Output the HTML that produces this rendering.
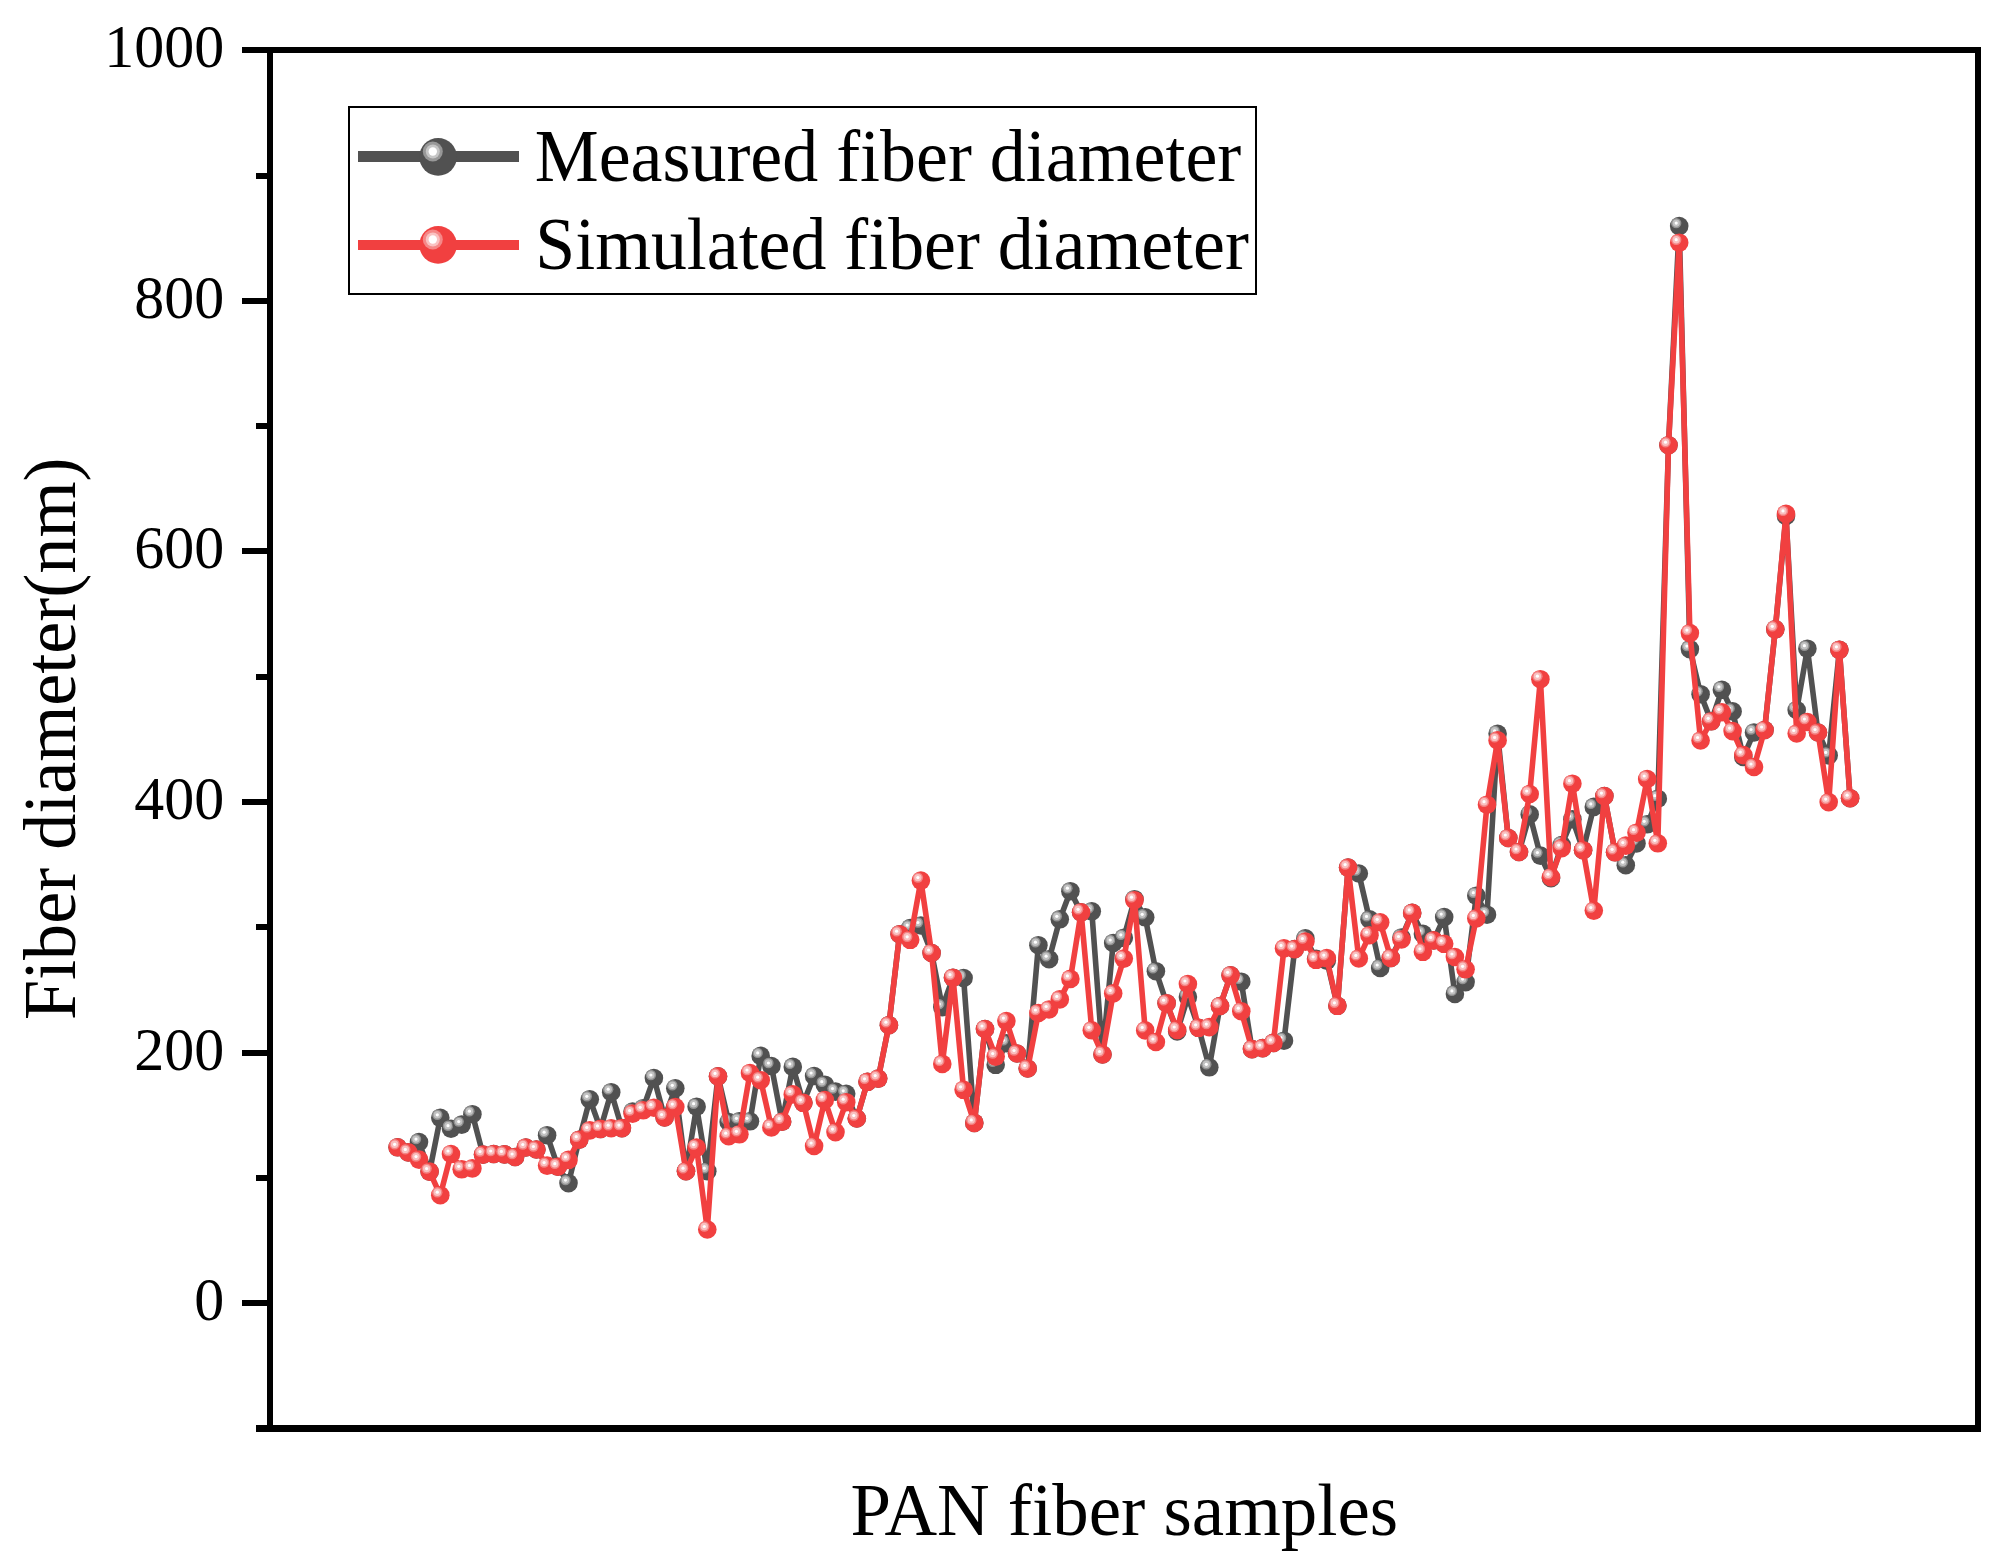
<!DOCTYPE html>
<html lang="en"><head><meta charset="utf-8"><title>Fiber diameter: measured vs simulated</title>
<style>html,body{margin:0;padding:0;background:#fff}body{width:2007px;height:1568px;overflow:hidden}svg{display:block}</style>
</head><body>
<svg width="2007" height="1568" viewBox="0 0 2007 1568"><defs>
<g id="mg"><circle r="9.3" fill="#515151"/><circle cx="-3" cy="-3" r="5.2" fill="#929292"/><circle cx="-3" cy="-3" r="3.7" fill="#c2c2c2"/><circle cx="-3" cy="-3" r="1.6" fill="#fff"/></g>
<g id="mr"><circle r="9.3" fill="#F14040"/><circle cx="-3" cy="-3" r="5.2" fill="#f48282"/><circle cx="-3" cy="-3" r="3.7" fill="#f9c0c0"/><circle cx="-3" cy="-3" r="1.6" fill="#fff"/></g>
<g id="lg"><circle r="18.8" fill="#515151"/><circle cx="-5.3" cy="-5.4" r="10" fill="#989898"/><circle cx="-5.3" cy="-5.4" r="7" fill="#c6c6c6"/><circle cx="-5.3" cy="-5.4" r="4.2" fill="#fff"/></g>
<g id="lr"><circle r="18.8" fill="#F14040"/><circle cx="-5.3" cy="-5.4" r="10" fill="#f58888"/><circle cx="-5.3" cy="-5.4" r="7" fill="#fac2c2"/><circle cx="-5.3" cy="-5.4" r="4.2" fill="#fff"/></g>
</defs><rect width="2007" height="1568" fill="#fff"/><polyline points="397.6,1147.3 408.3,1152.4 419.0,1142.1 429.6,1171.6 440.3,1117.8 451.0,1128.7 461.7,1124.6 472.4,1114.2 483.0,1154.6 493.7,1154.0 504.4,1154.4 515.1,1157.0 525.8,1147.5 536.4,1149.5 547.1,1135.2 557.8,1166.7 568.5,1183.1 579.2,1139.7 589.8,1099.3 600.5,1128.9 611.2,1092.2 621.9,1128.1 632.6,1111.6 643.2,1108.3 653.9,1078.0 664.6,1117.5 675.3,1088.3 686.0,1171.2 696.6,1106.7 707.3,1171.2 718.0,1076.4 728.7,1122.0 739.4,1121.3 750.0,1121.3 760.7,1055.9 771.4,1066.0 782.1,1121.7 792.8,1066.9 803.4,1102.8 814.1,1076.0 824.8,1084.7 835.5,1091.6 846.2,1093.8 856.8,1118.5 867.5,1081.8 878.2,1078.6 888.9,1025.2 899.6,934.2 910.2,928.1 920.9,925.5 931.6,953.0 942.3,1007.1 953.0,977.7 963.6,978.0 974.3,1122.9 985.0,1029.0 995.7,1064.8 1006.4,1043.3 1017.0,1053.5 1027.7,1068.5 1038.4,945.2 1049.1,959.2 1059.8,919.3 1070.4,891.2 1081.1,912.3 1091.8,911.3 1102.5,1054.5 1113.2,943.0 1123.8,937.8 1134.5,899.2 1145.2,917.3 1155.9,971.2 1166.6,1003.2 1177.2,1031.5 1187.9,996.9 1198.6,1027.8 1209.3,1067.3 1220.0,1006.0 1230.6,975.3 1241.3,981.7 1252.0,1049.1 1262.7,1048.1 1273.4,1042.9 1284.0,1040.7 1294.7,949.1 1305.4,938.4 1316.1,958.8 1326.8,960.6 1337.4,1005.8 1348.1,867.6 1358.8,873.5 1369.5,919.4 1380.2,968.0 1390.8,958.0 1401.5,937.5 1412.2,912.9 1422.9,933.9 1433.6,940.4 1444.2,917.1 1454.9,993.9 1465.6,982.1 1476.3,895.7 1487.0,914.7 1497.6,733.8 1508.3,838.0 1519.0,852.0 1529.7,814.4 1540.4,855.6 1551.0,878.2 1561.7,845.0 1572.4,819.2 1583.1,850.2 1593.8,806.9 1604.4,796.1 1615.1,852.3 1625.8,865.2 1636.5,843.4 1647.2,824.3 1657.8,798.7 1668.5,445.2 1679.2,226.1 1689.9,649.1 1700.6,694.2 1711.2,721.3 1721.9,689.8 1732.6,711.4 1743.3,757.0 1754.0,732.5 1764.6,730.0 1775.3,629.3 1786.0,516.0 1796.7,710.0 1807.4,648.7 1818.0,732.5 1828.7,755.4 1839.4,649.8 1850.1,798.2" fill="none" stroke="#515151" stroke-width="5.6" stroke-linejoin="round"/><use href="#mg" x="397.6" y="1147.3"/><use href="#mg" x="408.3" y="1152.4"/><use href="#mg" x="419.0" y="1142.1"/><use href="#mg" x="429.6" y="1171.6"/><use href="#mg" x="440.3" y="1117.8"/><use href="#mg" x="451.0" y="1128.7"/><use href="#mg" x="461.7" y="1124.6"/><use href="#mg" x="472.4" y="1114.2"/><use href="#mg" x="483.0" y="1154.6"/><use href="#mg" x="493.7" y="1154.0"/><use href="#mg" x="504.4" y="1154.4"/><use href="#mg" x="515.1" y="1157.0"/><use href="#mg" x="525.8" y="1147.5"/><use href="#mg" x="536.4" y="1149.5"/><use href="#mg" x="547.1" y="1135.2"/><use href="#mg" x="557.8" y="1166.7"/><use href="#mg" x="568.5" y="1183.1"/><use href="#mg" x="579.2" y="1139.7"/><use href="#mg" x="589.8" y="1099.3"/><use href="#mg" x="600.5" y="1128.9"/><use href="#mg" x="611.2" y="1092.2"/><use href="#mg" x="621.9" y="1128.1"/><use href="#mg" x="632.6" y="1111.6"/><use href="#mg" x="643.2" y="1108.3"/><use href="#mg" x="653.9" y="1078.0"/><use href="#mg" x="664.6" y="1117.5"/><use href="#mg" x="675.3" y="1088.3"/><use href="#mg" x="686.0" y="1171.2"/><use href="#mg" x="696.6" y="1106.7"/><use href="#mg" x="707.3" y="1171.2"/><use href="#mg" x="718.0" y="1076.4"/><use href="#mg" x="728.7" y="1122.0"/><use href="#mg" x="739.4" y="1121.3"/><use href="#mg" x="750.0" y="1121.3"/><use href="#mg" x="760.7" y="1055.9"/><use href="#mg" x="771.4" y="1066.0"/><use href="#mg" x="782.1" y="1121.7"/><use href="#mg" x="792.8" y="1066.9"/><use href="#mg" x="803.4" y="1102.8"/><use href="#mg" x="814.1" y="1076.0"/><use href="#mg" x="824.8" y="1084.7"/><use href="#mg" x="835.5" y="1091.6"/><use href="#mg" x="846.2" y="1093.8"/><use href="#mg" x="856.8" y="1118.5"/><use href="#mg" x="867.5" y="1081.8"/><use href="#mg" x="878.2" y="1078.6"/><use href="#mg" x="888.9" y="1025.2"/><use href="#mg" x="899.6" y="934.2"/><use href="#mg" x="910.2" y="928.1"/><use href="#mg" x="920.9" y="925.5"/><use href="#mg" x="931.6" y="953.0"/><use href="#mg" x="942.3" y="1007.1"/><use href="#mg" x="953.0" y="977.7"/><use href="#mg" x="963.6" y="978.0"/><use href="#mg" x="974.3" y="1122.9"/><use href="#mg" x="985.0" y="1029.0"/><use href="#mg" x="995.7" y="1064.8"/><use href="#mg" x="1006.4" y="1043.3"/><use href="#mg" x="1017.0" y="1053.5"/><use href="#mg" x="1027.7" y="1068.5"/><use href="#mg" x="1038.4" y="945.2"/><use href="#mg" x="1049.1" y="959.2"/><use href="#mg" x="1059.8" y="919.3"/><use href="#mg" x="1070.4" y="891.2"/><use href="#mg" x="1081.1" y="912.3"/><use href="#mg" x="1091.8" y="911.3"/><use href="#mg" x="1102.5" y="1054.5"/><use href="#mg" x="1113.2" y="943.0"/><use href="#mg" x="1123.8" y="937.8"/><use href="#mg" x="1134.5" y="899.2"/><use href="#mg" x="1145.2" y="917.3"/><use href="#mg" x="1155.9" y="971.2"/><use href="#mg" x="1166.6" y="1003.2"/><use href="#mg" x="1177.2" y="1031.5"/><use href="#mg" x="1187.9" y="996.9"/><use href="#mg" x="1198.6" y="1027.8"/><use href="#mg" x="1209.3" y="1067.3"/><use href="#mg" x="1220.0" y="1006.0"/><use href="#mg" x="1230.6" y="975.3"/><use href="#mg" x="1241.3" y="981.7"/><use href="#mg" x="1252.0" y="1049.1"/><use href="#mg" x="1262.7" y="1048.1"/><use href="#mg" x="1273.4" y="1042.9"/><use href="#mg" x="1284.0" y="1040.7"/><use href="#mg" x="1294.7" y="949.1"/><use href="#mg" x="1305.4" y="938.4"/><use href="#mg" x="1316.1" y="958.8"/><use href="#mg" x="1326.8" y="960.6"/><use href="#mg" x="1337.4" y="1005.8"/><use href="#mg" x="1348.1" y="867.6"/><use href="#mg" x="1358.8" y="873.5"/><use href="#mg" x="1369.5" y="919.4"/><use href="#mg" x="1380.2" y="968.0"/><use href="#mg" x="1390.8" y="958.0"/><use href="#mg" x="1401.5" y="937.5"/><use href="#mg" x="1412.2" y="912.9"/><use href="#mg" x="1422.9" y="933.9"/><use href="#mg" x="1433.6" y="940.4"/><use href="#mg" x="1444.2" y="917.1"/><use href="#mg" x="1454.9" y="993.9"/><use href="#mg" x="1465.6" y="982.1"/><use href="#mg" x="1476.3" y="895.7"/><use href="#mg" x="1487.0" y="914.7"/><use href="#mg" x="1497.6" y="733.8"/><use href="#mg" x="1508.3" y="838.0"/><use href="#mg" x="1519.0" y="852.0"/><use href="#mg" x="1529.7" y="814.4"/><use href="#mg" x="1540.4" y="855.6"/><use href="#mg" x="1551.0" y="878.2"/><use href="#mg" x="1561.7" y="845.0"/><use href="#mg" x="1572.4" y="819.2"/><use href="#mg" x="1583.1" y="850.2"/><use href="#mg" x="1593.8" y="806.9"/><use href="#mg" x="1604.4" y="796.1"/><use href="#mg" x="1615.1" y="852.3"/><use href="#mg" x="1625.8" y="865.2"/><use href="#mg" x="1636.5" y="843.4"/><use href="#mg" x="1647.2" y="824.3"/><use href="#mg" x="1657.8" y="798.7"/><use href="#mg" x="1668.5" y="445.2"/><use href="#mg" x="1679.2" y="226.1"/><use href="#mg" x="1689.9" y="649.1"/><use href="#mg" x="1700.6" y="694.2"/><use href="#mg" x="1711.2" y="721.3"/><use href="#mg" x="1721.9" y="689.8"/><use href="#mg" x="1732.6" y="711.4"/><use href="#mg" x="1743.3" y="757.0"/><use href="#mg" x="1754.0" y="732.5"/><use href="#mg" x="1764.6" y="730.0"/><use href="#mg" x="1775.3" y="629.3"/><use href="#mg" x="1786.0" y="516.0"/><use href="#mg" x="1796.7" y="710.0"/><use href="#mg" x="1807.4" y="648.7"/><use href="#mg" x="1818.0" y="732.5"/><use href="#mg" x="1828.7" y="755.4"/><use href="#mg" x="1839.4" y="649.8"/><use href="#mg" x="1850.1" y="798.2"/><polyline points="397.6,1147.3 408.3,1152.4 419.0,1159.6 429.6,1171.6 440.3,1195.2 451.0,1154.0 461.7,1169.3 472.4,1168.4 483.0,1154.6 493.7,1154.0 504.4,1154.4 515.1,1157.0 525.8,1147.5 536.4,1149.5 547.1,1165.6 557.8,1166.7 568.5,1159.9 579.2,1139.7 589.8,1130.4 600.5,1128.9 611.2,1128.2 621.9,1128.1 632.6,1113.6 643.2,1110.3 653.9,1107.7 664.6,1117.5 675.3,1107.1 686.0,1171.2 696.6,1147.6 707.3,1229.5 718.0,1076.4 728.7,1136.2 739.4,1134.3 750.0,1073.0 760.7,1080.2 771.4,1127.4 782.1,1121.7 792.8,1094.4 803.4,1102.8 814.1,1146.0 824.8,1100.0 835.5,1132.1 846.2,1102.2 856.8,1118.5 867.5,1081.8 878.2,1078.6 888.9,1025.2 899.6,934.2 910.2,939.8 920.9,880.6 931.6,953.0 942.3,1063.9 953.0,977.7 963.6,1089.8 974.3,1122.9 985.0,1029.0 995.7,1056.6 1006.4,1021.1 1017.0,1053.5 1027.7,1068.5 1038.4,1013.0 1049.1,1009.5 1059.8,999.4 1070.4,978.9 1081.1,912.3 1091.8,1030.3 1102.5,1054.5 1113.2,993.4 1123.8,958.6 1134.5,900.2 1145.2,1030.4 1155.9,1042.0 1166.6,1003.2 1177.2,1030.0 1187.9,984.0 1198.6,1027.8 1209.3,1027.1 1220.0,1006.0 1230.6,975.3 1241.3,1011.2 1252.0,1049.1 1262.7,1048.1 1273.4,1042.9 1284.0,948.4 1294.7,949.1 1305.4,941.6 1316.1,959.8 1326.8,958.1 1337.4,1005.8 1348.1,867.6 1358.8,958.4 1369.5,935.2 1380.2,922.3 1390.8,958.0 1401.5,939.5 1412.2,912.9 1422.9,951.8 1433.6,940.4 1444.2,943.8 1454.9,957.0 1465.6,969.3 1476.3,918.4 1487.0,804.7 1497.6,740.4 1508.3,838.0 1519.0,852.0 1529.7,794.0 1540.4,679.2 1551.0,877.2 1561.7,848.1 1572.4,783.7 1583.1,850.2 1593.8,910.6 1604.4,796.1 1615.1,852.3 1625.8,845.6 1636.5,832.7 1647.2,779.0 1657.8,843.3 1668.5,445.2 1679.2,242.7 1689.9,633.1 1700.6,740.5 1711.2,721.3 1721.9,712.3 1732.6,731.1 1743.3,755.1 1754.0,767.0 1764.6,730.0 1775.3,629.3 1786.0,513.9 1796.7,733.5 1807.4,722.0 1818.0,732.5 1828.7,802.1 1839.4,649.8 1850.1,798.2" fill="none" stroke="#F14040" stroke-width="5.6" stroke-linejoin="round"/><use href="#mr" x="397.6" y="1147.3"/><use href="#mr" x="408.3" y="1152.4"/><use href="#mr" x="419.0" y="1159.6"/><use href="#mr" x="429.6" y="1171.6"/><use href="#mr" x="440.3" y="1195.2"/><use href="#mr" x="451.0" y="1154.0"/><use href="#mr" x="461.7" y="1169.3"/><use href="#mr" x="472.4" y="1168.4"/><use href="#mr" x="483.0" y="1154.6"/><use href="#mr" x="493.7" y="1154.0"/><use href="#mr" x="504.4" y="1154.4"/><use href="#mr" x="515.1" y="1157.0"/><use href="#mr" x="525.8" y="1147.5"/><use href="#mr" x="536.4" y="1149.5"/><use href="#mr" x="547.1" y="1165.6"/><use href="#mr" x="557.8" y="1166.7"/><use href="#mr" x="568.5" y="1159.9"/><use href="#mr" x="579.2" y="1139.7"/><use href="#mr" x="589.8" y="1130.4"/><use href="#mr" x="600.5" y="1128.9"/><use href="#mr" x="611.2" y="1128.2"/><use href="#mr" x="621.9" y="1128.1"/><use href="#mr" x="632.6" y="1113.6"/><use href="#mr" x="643.2" y="1110.3"/><use href="#mr" x="653.9" y="1107.7"/><use href="#mr" x="664.6" y="1117.5"/><use href="#mr" x="675.3" y="1107.1"/><use href="#mr" x="686.0" y="1171.2"/><use href="#mr" x="696.6" y="1147.6"/><use href="#mr" x="707.3" y="1229.5"/><use href="#mr" x="718.0" y="1076.4"/><use href="#mr" x="728.7" y="1136.2"/><use href="#mr" x="739.4" y="1134.3"/><use href="#mr" x="750.0" y="1073.0"/><use href="#mr" x="760.7" y="1080.2"/><use href="#mr" x="771.4" y="1127.4"/><use href="#mr" x="782.1" y="1121.7"/><use href="#mr" x="792.8" y="1094.4"/><use href="#mr" x="803.4" y="1102.8"/><use href="#mr" x="814.1" y="1146.0"/><use href="#mr" x="824.8" y="1100.0"/><use href="#mr" x="835.5" y="1132.1"/><use href="#mr" x="846.2" y="1102.2"/><use href="#mr" x="856.8" y="1118.5"/><use href="#mr" x="867.5" y="1081.8"/><use href="#mr" x="878.2" y="1078.6"/><use href="#mr" x="888.9" y="1025.2"/><use href="#mr" x="899.6" y="934.2"/><use href="#mr" x="910.2" y="939.8"/><use href="#mr" x="920.9" y="880.6"/><use href="#mr" x="931.6" y="953.0"/><use href="#mr" x="942.3" y="1063.9"/><use href="#mr" x="953.0" y="977.7"/><use href="#mr" x="963.6" y="1089.8"/><use href="#mr" x="974.3" y="1122.9"/><use href="#mr" x="985.0" y="1029.0"/><use href="#mr" x="995.7" y="1056.6"/><use href="#mr" x="1006.4" y="1021.1"/><use href="#mr" x="1017.0" y="1053.5"/><use href="#mr" x="1027.7" y="1068.5"/><use href="#mr" x="1038.4" y="1013.0"/><use href="#mr" x="1049.1" y="1009.5"/><use href="#mr" x="1059.8" y="999.4"/><use href="#mr" x="1070.4" y="978.9"/><use href="#mr" x="1081.1" y="912.3"/><use href="#mr" x="1091.8" y="1030.3"/><use href="#mr" x="1102.5" y="1054.5"/><use href="#mr" x="1113.2" y="993.4"/><use href="#mr" x="1123.8" y="958.6"/><use href="#mr" x="1134.5" y="900.2"/><use href="#mr" x="1145.2" y="1030.4"/><use href="#mr" x="1155.9" y="1042.0"/><use href="#mr" x="1166.6" y="1003.2"/><use href="#mr" x="1177.2" y="1030.0"/><use href="#mr" x="1187.9" y="984.0"/><use href="#mr" x="1198.6" y="1027.8"/><use href="#mr" x="1209.3" y="1027.1"/><use href="#mr" x="1220.0" y="1006.0"/><use href="#mr" x="1230.6" y="975.3"/><use href="#mr" x="1241.3" y="1011.2"/><use href="#mr" x="1252.0" y="1049.1"/><use href="#mr" x="1262.7" y="1048.1"/><use href="#mr" x="1273.4" y="1042.9"/><use href="#mr" x="1284.0" y="948.4"/><use href="#mr" x="1294.7" y="949.1"/><use href="#mr" x="1305.4" y="941.6"/><use href="#mr" x="1316.1" y="959.8"/><use href="#mr" x="1326.8" y="958.1"/><use href="#mr" x="1337.4" y="1005.8"/><use href="#mr" x="1348.1" y="867.6"/><use href="#mr" x="1358.8" y="958.4"/><use href="#mr" x="1369.5" y="935.2"/><use href="#mr" x="1380.2" y="922.3"/><use href="#mr" x="1390.8" y="958.0"/><use href="#mr" x="1401.5" y="939.5"/><use href="#mr" x="1412.2" y="912.9"/><use href="#mr" x="1422.9" y="951.8"/><use href="#mr" x="1433.6" y="940.4"/><use href="#mr" x="1444.2" y="943.8"/><use href="#mr" x="1454.9" y="957.0"/><use href="#mr" x="1465.6" y="969.3"/><use href="#mr" x="1476.3" y="918.4"/><use href="#mr" x="1487.0" y="804.7"/><use href="#mr" x="1497.6" y="740.4"/><use href="#mr" x="1508.3" y="838.0"/><use href="#mr" x="1519.0" y="852.0"/><use href="#mr" x="1529.7" y="794.0"/><use href="#mr" x="1540.4" y="679.2"/><use href="#mr" x="1551.0" y="877.2"/><use href="#mr" x="1561.7" y="848.1"/><use href="#mr" x="1572.4" y="783.7"/><use href="#mr" x="1583.1" y="850.2"/><use href="#mr" x="1593.8" y="910.6"/><use href="#mr" x="1604.4" y="796.1"/><use href="#mr" x="1615.1" y="852.3"/><use href="#mr" x="1625.8" y="845.6"/><use href="#mr" x="1636.5" y="832.7"/><use href="#mr" x="1647.2" y="779.0"/><use href="#mr" x="1657.8" y="843.3"/><use href="#mr" x="1668.5" y="445.2"/><use href="#mr" x="1679.2" y="242.7"/><use href="#mr" x="1689.9" y="633.1"/><use href="#mr" x="1700.6" y="740.5"/><use href="#mr" x="1711.2" y="721.3"/><use href="#mr" x="1721.9" y="712.3"/><use href="#mr" x="1732.6" y="731.1"/><use href="#mr" x="1743.3" y="755.1"/><use href="#mr" x="1754.0" y="767.0"/><use href="#mr" x="1764.6" y="730.0"/><use href="#mr" x="1775.3" y="629.3"/><use href="#mr" x="1786.0" y="513.9"/><use href="#mr" x="1796.7" y="733.5"/><use href="#mr" x="1807.4" y="722.0"/><use href="#mr" x="1818.0" y="732.5"/><use href="#mr" x="1828.7" y="802.1"/><use href="#mr" x="1839.4" y="649.8"/><use href="#mr" x="1850.1" y="798.2"/><g fill="#000" shape-rendering="crispEdges"><rect x="242" y="47" width="1739" height="6"/><rect x="256" y="1425" width="1725" height="7"/><rect x="267" y="47" width="6" height="1385"/><rect x="1975" y="47" width="6" height="1385"/><rect x="242" y="1300" width="26" height="6"/><rect x="256" y="1175" width="12" height="6"/><rect x="242" y="1050" width="26" height="6"/><rect x="256" y="924" width="12" height="6"/><rect x="242" y="799" width="26" height="6"/><rect x="256" y="674" width="12" height="6"/><rect x="242" y="548" width="26" height="6"/><rect x="256" y="423" width="12" height="6"/><rect x="242" y="298" width="26" height="6"/><rect x="256" y="173" width="12" height="6"/></g><g font-family="'Liberation Serif', 'Times New Roman', serif" font-size="60" fill="#000" text-anchor="end"><text transform="translate(224.3,1320.1) scale(1,1.033)">0</text><text transform="translate(224.3,1070.1) scale(1,1.033)">200</text><text transform="translate(224.3,819.1) scale(1,1.033)">400</text><text transform="translate(224.3,568.1) scale(1,1.033)">600</text><text transform="translate(224.3,318.1) scale(1,1.033)">800</text><text transform="translate(224.3,67.1) scale(1,1.033)">1000</text></g><g font-family="'Liberation Serif', 'Times New Roman', serif" font-size="73" fill="#000"><text x="850.6" y="1535" textLength="547.5" lengthAdjust="spacingAndGlyphs">PAN fiber samples</text><text transform="translate(75.2,1020) rotate(-90)" textLength="562.5" lengthAdjust="spacingAndGlyphs">Fiber diameter(nm)</text></g><rect x="349" y="107" width="907" height="187" fill="#fff" stroke="#000" stroke-width="2" shape-rendering="crispEdges"/><rect x="358" y="151" width="161" height="11" fill="#515151" shape-rendering="crispEdges"/><rect x="358" y="240" width="161" height="10" fill="#F14040" shape-rendering="crispEdges"/><use href="#lg" x="438.1" y="156.9"/><use href="#lr" x="438.1" y="244.9"/><g font-family="'Liberation Serif', 'Times New Roman', serif" font-size="73" fill="#000"><text x="534.8" y="181" textLength="706.5" lengthAdjust="spacingAndGlyphs">Measured fiber diameter</text><text x="535.3" y="268.8" textLength="713.5" lengthAdjust="spacingAndGlyphs">Simulated fiber diameter</text></g></svg>
</body></html>
